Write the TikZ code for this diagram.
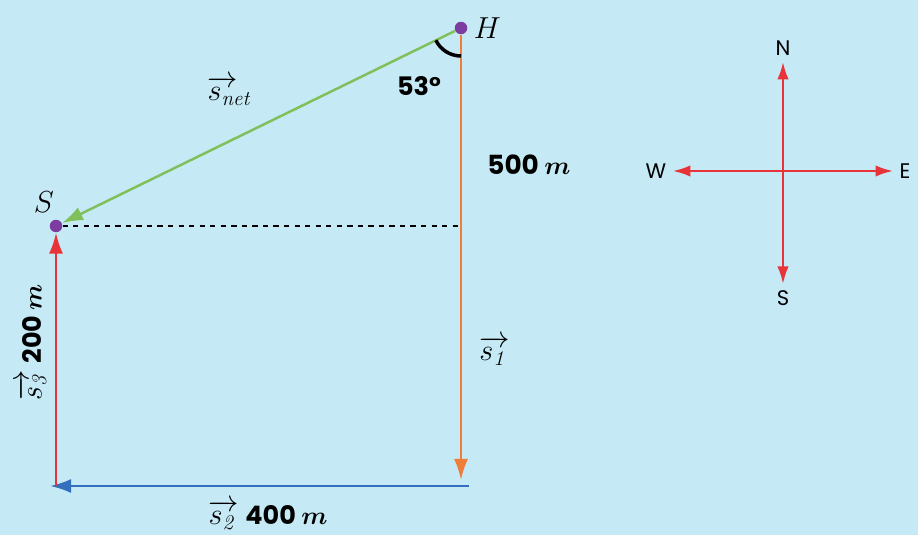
\documentclass[tikz,border=0pt]{standalone}
\usepackage{amsmath,amssymb,mathtools}
\usepackage{fontspec}
\usepackage{tikz}
\usetikzlibrary{arrows.meta, positioning}
\newfontfamily\labfont{Poppins}
\definecolor{bgblue}{RGB}{197,233,245}
\definecolor{vred}{RGB}{232,52,56}
\definecolor{vorange}{RGB}{240,125,58}
\definecolor{vgreen}{RGB}{128,192,90}
\definecolor{vblue}{RGB}{52,110,190}
\definecolor{vpurple}{RGB}{125,60,160}
\newcommand{\vecs}[1]{\mathrlap{\overrightarrow{\phantom{s}}}s_{\mathit{#1}}}

\begin{document}
\begin{tikzpicture}[
    x=0.02cm, y=0.02cm,
    dot/.style={circle, fill=vpurple, inner sep=0pt, minimum size=0.25cm},
    vec/.style={line width=1.4pt, -{Latex[length=12pt,width=8pt]}},
    dir/.style={line width=1.4pt, vred, {Latex[length=10pt,width=6.5pt]}-{Latex[length=10pt,width=6.5pt]}},
    pt/.style={font=\fontsize{16}{18}\selectfont},
    sv/.style={font=\fontsize{17}{19}\selectfont},
    val/.style={font=\fontsize{14.5}{17}\selectfont\labfont\bfseries},
    cmp/.style={font=\fontsize{12}{14}\selectfont\labfont, inner sep=3.5pt}
]
\useasboundingbox[fill=bgblue] (0,0) rectangle (918,535);

% points
\node[dot] (H) at (461,507) {};
\node[dot] (S) at (56,309) {};
\node[pt, right=0pt of H] (Hl) {$H$};
\node[pt] (Sl) at (44,333) {$S$};
\coordinate (C) at (461,55);
\coordinate (B) at (469,49);
\coordinate (A) at (56,49);
\coordinate (M) at (461,309);

% displacements
\draw[vec, vorange] (H) -- (C);
\draw[vec, vblue] (B) -- (50,49) coordinate (Bend);
\draw[vec, vred] (A) -- (S);
\draw[vec, vgreen] (H) -- (S);
\draw[dashed, line width=1pt] (S) -- (M);
\draw[line width=2pt] ([shift={(206:0.56cm)}]H.center) arc[start angle=206, end angle=270, radius=0.56cm];

% labels
\node[val] (ang) at (419,449) {53°};
\node[val, font=\fontsize{15}{17}\selectfont\labfont\bfseries] (d1) at (529,370) {500 $\boldsymbol{m}$};
\node[sv] (s1) at (492,184) {$\vecs{1}$};
\node[sv] (snet) at (229,444) {$\vecs{net}$};
\node[val, rotate=90] (d3) at (32,193) {{\mdseries\fontsize{17}{19}\selectfont$\vecs{3}$}\hspace{0.45em}200 $\boldsymbol{m}$};
\node[val] (d2) at (268,20) {{\mdseries\fontsize{17}{19}\selectfont$\vecs{2}$}\hspace{0.45em}400 $\boldsymbol{m}$};

% compass
\coordinate (O) at (783,364);
\node[cmp] (N) at (783,487) {N};
\node[cmp] (So) at (783,237) {S};
\node[cmp] (W) at (656,364) {W};
\node[cmp] (E) at (905,364) {E};
\draw[dir] (So) -- (N);
\draw[dir] (W) -- (E);

\end{tikzpicture}
\end{document}
